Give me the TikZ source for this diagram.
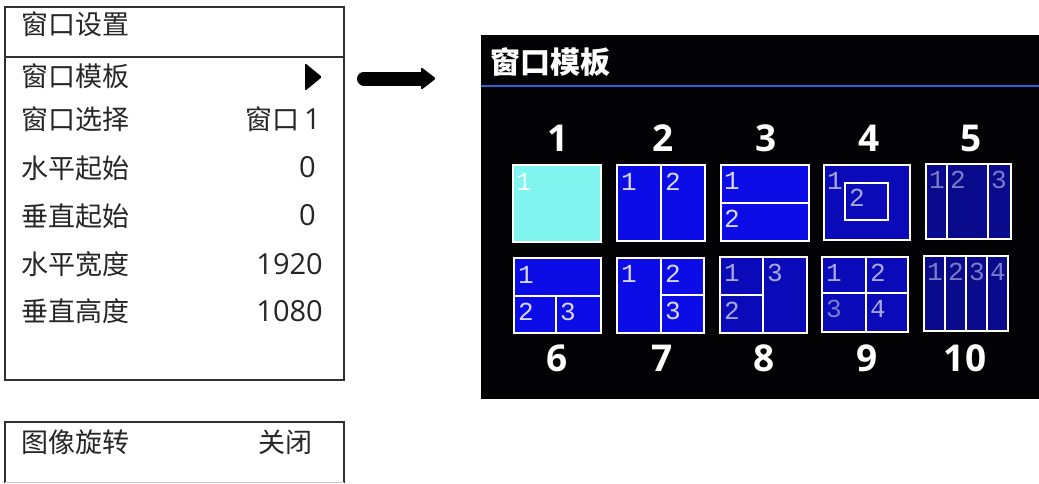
\documentclass[tikz,border=0pt]{standalone}
\usepackage{fontspec}
\setmainfont{Noto Sans CJK SC}
\newfontfamily\digitfont{Open Sans}
\newfontfamily\monofont{Liberation Mono}
\definecolor{menuline}{HTML}{303030}
\definecolor{screenbg}{HTML}{030306}
\definecolor{rulecol}{HTML}{2A64D8}
\definecolor{tcyan}{HTML}{80F4EE}
\definecolor{tblueA}{HTML}{0C0CE6}
\definecolor{tblueB}{HTML}{0A0AB8}
\definecolor{tblueC}{HTML}{0A0A8C}
\definecolor{labA}{HTML}{D8D8F6}
\definecolor{labB}{HTML}{A8A8E0}
\definecolor{labC}{HTML}{7C7CC8}
\tikzset{
  menutxt/.style={inner sep=0pt, anchor=west, font=\fontsize{27}{30}\selectfont, text=black!85},
  menuval/.style={inner sep=0pt, anchor=east, font=\fontsize{27}{30}\selectfont, text=black!85},
  digval/.style={inner sep=0pt, anchor=east, font=\digitfont\fontsize{29}{30}\selectfont, text=black!85},
  frame/.style={draw=white, line width=2.4pt},
  divl/.style={draw=white, line width=2.2pt},
  lab/.style={inner sep=0pt, anchor=north west, font=\monofont\fontsize{26}{26}\selectfont, text=labA},
  num/.style={inner sep=0pt, font=\digitfont\bfseries\fontsize{37}{37}\selectfont, text=white},
}
\begin{document}
\begin{tikzpicture}[x=1pt,y=-1pt]
\useasboundingbox (0,0) rectangle (1039,483);
\fill[white] (0,0) rectangle (1039,483);
% ---------- menu box ----------
\draw[menuline, line width=1.3pt] (5,7) rectangle (344,380);
\draw[menuline, line width=1.3pt] (5,57) -- (344,57);
\node[menutxt] (m0) at (21,24.5) {窗口设置};
\node[menutxt] (m1) at (21,76.5) {窗口模板};
\node[menutxt] (m2) at (21,119) {窗口选择};
\node[menutxt] (m3) at (21,168) {水平起始};
\node[menutxt] (m4) at (21,216) {垂直起始};
\node[menutxt] (m5) at (21,264) {水平宽度};
\node[menutxt] (m6) at (21,311.5) {垂直高度};
\fill[black, rounded corners=1.5pt] (305,63) -- (322,77) -- (305,91) -- cycle;
\node[menuval] (v2) at (321,119) {窗口\,{\digitfont\fontsize{29}{30}\selectfont 1}};
\node[digval] (v3) at (316,167.5) {0};
\node[digval] (v4) at (316,215.5) {0};
\node[digval] (v5) at (323,264) {1920};
\node[digval] (v6) at (323,311.5) {1080};
% ---------- bottom box ----------
\draw[menuline, line width=1.3pt] (5,483) -- (5,422) -- (344,422) -- (344,483);
\draw[black!20, line width=1pt] (5,482) -- (344,482);
\node[menutxt] (b1) at (21,442) {图像旋转};
\node[menuval] (b2) at (313,442) {关闭};
% ---------- arrow ----------
\coordinate (arrS) at (364,78.5);
\coordinate (arrE) at (436,78.5);
\draw[black, line width=14pt, line cap=round] (arrS) -- (424,78.5);
\fill[black, rounded corners=2pt] (421,67) -- (arrE) -- (421,90) -- cycle;
% ---------- screen ----------
\fill[screenbg] (481,35) rectangle (1039,399);
\draw[rulecol, line width=2pt] (481,86) -- (1039,86);
\node[inner sep=0pt, anchor=west, text=white, font=\bfseries\fontsize{30}{30}\selectfont] (title) at (490,62) {窗口模板};
% numbers
\node[num] (n1) at (558,138.5) {1};
\node[num] (n2) at (663,138.5) {2};
\node[num] (n3) at (766,138.5) {3};
\node[num] (n4) at (869,138.5) {4};
\node[num] (n5) at (971,138.5) {5};
\node[num] (n6) at (557,358) {6};
\node[num] (n7) at (662,358) {7};
\node[num] (n8) at (764,358) {8};
\node[num] (n9) at (867,358) {9};
\node[num] (n10) at (965,358) {10};
% T1
\fill[tcyan] (513,165) rectangle (601,242);
\node[lab, text=white!85!tcyan] (t1a) at (516,173) {1};
\draw[frame] (513,165) rectangle (601,242);
% T2
\fill[tblueA] (617,165) rectangle (705,241);
\draw[divl] (661,165) -- (661,241);
\draw[frame] (617,165) rectangle (705,241);
\node[lab] (t2a) at (621,173) {1};
\node[lab] (t2b) at (665,173) {2};
% T3
\fill[tblueA] (721,165) rectangle (809,241);
\draw[divl] (721,203) -- (809,203);
\draw[frame] (721,165) rectangle (809,241);
\node[lab] (t3a) at (724,172) {1};
\node[lab] (t3b) at (724,210) {2};
% T4
\fill[tblueB] (824,165) rectangle (910,240);
\draw[divl] (845,183) rectangle (888,220);
\draw[frame] (824,165) rectangle (910,240);
\node[lab, text=labB] (t4a) at (827,172) {1};
\node[lab, text=labB] (t4b) at (849,189) {2};
% T5
\fill[tblueC] (926,164) rectangle (1011,239);
\draw[divl] (947,164) -- (947,239);
\draw[divl] (988,164) -- (988,239);
\draw[frame] (926,164) rectangle (1011,239);
\node[lab, text=labC] (t5a) at (929,171) {1};
\node[lab, text=labC] (t5b) at (950,171) {2};
\node[lab, text=labC] (t5c) at (991,171) {3};
% T6
\fill[tblueA] (514,258) rectangle (601,333);
\draw[divl] (514,296) -- (601,296);
\draw[divl] (556,296) -- (556,333);
\draw[frame] (514,258) rectangle (601,333);
\node[lab] (t6a) at (518,266) {1};
\node[lab] (t6b) at (518,303) {2};
\node[lab] (t6c) at (560,303) {3};
% T7
\fill[tblueA] (617,258) rectangle (704,333);
\draw[divl] (661,258) -- (661,333);
\draw[divl] (661,295) -- (704,295);
\draw[frame] (617,258) rectangle (704,333);
\node[lab] (t7a) at (621,265) {1};
\node[lab] (t7b) at (665,265) {2};
\node[lab] (t7c) at (665,302) {3};
% T8
\fill[tblueB] (720,257) rectangle (807,333);
\draw[divl] (763,257) -- (763,333);
\draw[divl] (720,295) -- (763,295);
\draw[frame] (720,257) rectangle (807,333);
\node[lab, text=labB] (t8a) at (724,264) {1};
\node[lab, text=labB] (t8b) at (767,264) {3};
\node[lab, text=labB] (t8c) at (724,302) {2};
% T9
\fill[tblueB] (822,257) rectangle (908,332);
\draw[divl] (866,257) -- (866,332);
\draw[divl] (822,293) -- (908,293);
\draw[frame] (822,257) rectangle (908,332);
\node[lab, text=labB] (t9a) at (826,264) {1};
\node[lab, text=labB] (t9b) at (870,264) {2};
\node[lab, text=labC] (t9c) at (826,300) {3};
\node[lab, text=labB] (t9d) at (870,300) {4};
% T10
\fill[tblueC] (924,256) rectangle (1008,331);
\draw[divl] (945,256) -- (945,331);
\draw[divl] (966,256) -- (966,331);
\draw[divl] (987,256) -- (987,331);
\draw[frame] (924,256) rectangle (1008,331);
\node[lab, text=labC] (t10a) at (927,263) {1};
\node[lab, text=labC] (t10b) at (948,263) {2};
\node[lab, text=labC] (t10c) at (969,263) {3};
\node[lab, text=labC] (t10d) at (990,263) {4};
\end{tikzpicture}
\end{document}
